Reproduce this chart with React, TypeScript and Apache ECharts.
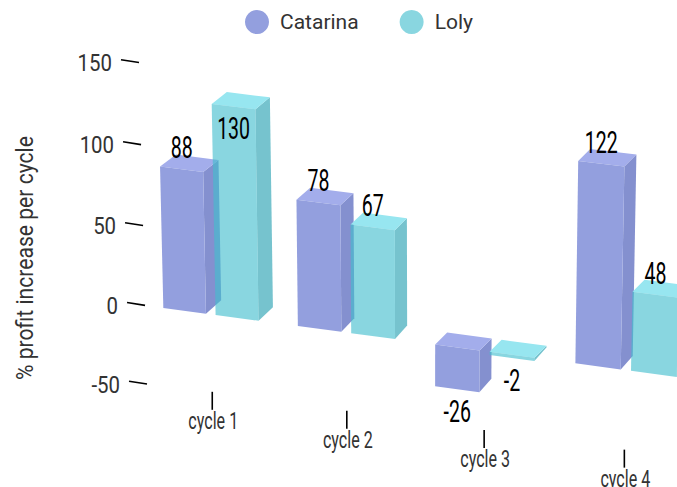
import React, { useEffect, useRef } from "react";
import * as echarts from "echarts";

const categories = ["cycle 1", "cycle 2", "cycle 3", "cycle 4"];
const catarina = [88, 78, -26, 122];
const loly = [130, 67, -2, 48];
const valueTicks = [150, 100, 50, 0, -50];

const FONT = "Roboto, sans-serif";
const GRID = { left: 144, top: 60, width: 552, height: 320 };

// Perspective of the front plane: plot rectangle corners -> page corners.
function solve(A: number[][], b: number[]) {
  const n = b.length;
  const M = A.map((r, i) => [...r, b[i]]);
  for (let c = 0; c < n; c++) {
    let p = c;
    for (let r = c + 1; r < n; r++) if (Math.abs(M[r][c]) > Math.abs(M[p][c])) p = r;
    [M[c], M[p]] = [M[p], M[c]];
    for (let r = 0; r < n; r++) {
      if (r === c) continue;
      const f = M[r][c] / M[c][c];
      for (let k = c; k <= n; k++) M[r][k] -= f * M[c][k];
    }
  }
  return M.map((r, i) => r[n] / r[i]);
}
function makeHomography(src: number[][], dst: number[][]) {
  const A: number[][] = [];
  const b: number[] = [];
  src.forEach(([x, y], i) => {
    const [X, Y] = dst[i];
    A.push([x, y, 1, 0, 0, 0, -x * X, -y * X]);
    b.push(X);
    A.push([0, 0, 0, x, y, 1, -x * Y, -y * Y]);
    b.push(Y);
  });
  const h = solve(A, b);
  return (p: number[]) => {
    const w = h[6] * p[0] + h[7] * p[1] + 1;
    return [(h[0] * p[0] + h[1] * p[1] + h[2]) / w, (h[3] * p[0] + h[4] * p[1] + h[5]) / w];
  };
}
const project = makeHomography(
  [
    [GRID.left, GRID.top],
    [GRID.left + GRID.width, GRID.top],
    [GRID.left + GRID.width, GRID.top + GRID.height],
    [GRID.left, GRID.top + GRID.height],
  ],
  [
    [138, 62.5],
    [725, 130.5],
    [716, 464],
    [146, 384],
  ]
);
const back = (p: number[], bottom: boolean) => {
  const dx = Math.max(12, 16 - Math.max(0, p[0] - 160) / 60);
  return [p[0] + dx, p[1] - (bottom ? 13.5 : 12)];
};
const poly = (points: number[][], fill: string) => ({
  type: "polygon",
  shape: { points },
  style: { fill, stroke: "none" },
});
const text = (t: string, x: number, y: number, size: number, scaleX: number, fill: string, align = "center") => ({
  type: "text",
  x,
  y,
  scaleX,
  style: { text: t, font: `400 ${size}px ${FONT}`, fill, align, verticalAlign: "middle" },
});

function barRenderer(from: number, to: number, faces: { front: string; top: string; side: string }) {
  return (_params: any, api: any) => {
    const i = api.value(0);
    const v = api.value(1);
    const base = api.coord([i, 0]);
    const end = api.coord([i, v]);
    const band = api.size([1, 0])[0];
    const x0 = base[0] + from * band;
    const x1 = base[0] + to * band;
    const yHigh = Math.min(base[1], end[1]);
    const yLow = Math.max(base[1], end[1]);
    const tl = project([x0, yHigh]);
    const tr = project([x1, yHigh]);
    const bl = project([x0, yLow]);
    const br = project([x1, yLow]);
    const tbr = back(tr, false);
    const tbl = back(tl, false);
    const bbr = back(br, true);
    const cx = (tl[0] + tr[0]) / 2;
    const inside = v > 125;
    const lx = v < 0 ? (bl[0] + br[0]) / 2 : cx;
    const ly = v < 0 ? (bl[1] + br[1]) / 2 + 22 : (tl[1] + tr[1]) / 2 + (inside ? 22 : -22);
    return {
      type: "group",
      children: [
        poly([tr, tbr, bbr, br], faces.side),
        poly([tl, tbl, tbr, tr], faces.top),
        poly([tl, tr, br, bl], faces.front),
        text(String(v), lx, ly, 31, 0.63, "#000"),
      ],
    };
  };
}

export default function App() {
  const ref = useRef<HTMLDivElement>(null);
  useEffect(() => {
    const chart = echarts.init(ref.current!, undefined, { renderer: "svg" });
    chart.setOption({
      animation: false,
      backgroundColor: "#fff",
      grid: GRID,
      xAxis: { type: "category", data: categories, show: false },
      yAxis: { type: "value", min: -50, max: 150, interval: 50, show: false },
      legend: {
        data: ["Catarina", "Loly"],
        left: 240,
        top: 5,
        icon: "circle",
        itemWidth: 24,
        itemHeight: 26,
        itemGap: 41,
        textStyle: { fontFamily: FONT, fontSize: 21, color: "#333", padding: [0, 0, 0, 6] },
      },
      graphic: [
        {
          type: "text",
          x: 25,
          y: 258,
          rotation: Math.PI / 2,
          scaleX: 0.88,
          style: {
            text: "% profit increase per cycle",
            font: `400 24px ${FONT}`,
            fill: "#333",
            align: "center",
            verticalAlign: "middle",
          },
        },
      ],
      series: [
        {
          type: "custom",
          name: "Catarina",
          clip: false,
          itemStyle: { color: "#939FDE" },
          data: catarina.map((v, i) => [i, v]),
          encode: { x: 0, y: 1 },
          renderItem: barRenderer(-0.355, -0.036, { front: "#939FDE", top: "#A3ADEB", side: "#8490CF" }),
        },
        {
          type: "custom",
          name: "Loly",
          clip: false,
          itemStyle: { color: "#89D6E0" },
          data: loly.map((v, i) => [i, v]),
          encode: { x: 0, y: 1 },
          renderItem: barRenderer(0.036, 0.355, {
            front: "rgba(67,189,205,0.626)",
            top: "#97E6F0",
            side: "#76C3CE",
          }),
        },
        {
          type: "custom",
          name: "valueAxis",
          clip: false,
          silent: true,
          data: valueTicks.map((v) => [0, v]),
          encode: { x: 0, y: 1 },
          renderItem: (_p: any, api: any) => {
            const v = api.value(1);
            const c = api.coord([0, v]);
            const e = project([GRID.left, c[1]]);
            const end = [e[0] + 1, e[1]];
            const start = [end[0] - 18, end[1] - 2.8];
            return {
              type: "group",
              children: [
                {
                  type: "line",
                  shape: { x1: start[0], y1: start[1], x2: end[0], y2: end[1] },
                  style: { stroke: "#000", lineWidth: 1.6 },
                },
                text(String(v), start[0] - 9, start[1] + 3, 24, 0.85, "#333", "right"),
              ],
            };
          },
        },
        {
          type: "custom",
          name: "categoryAxis",
          clip: false,
          silent: true,
          data: categories.map((_, i) => [i, -50]),
          encode: { x: 0, y: 1 },
          renderItem: (_p: any, api: any) => {
            const i = api.value(0);
            const p = project(api.coord([i, -50]));
            const top = p[1] - 1.5;
            return {
              type: "group",
              children: [
                {
                  type: "line",
                  shape: { x1: p[0], y1: top, x2: p[0], y2: top + 18 },
                  style: { stroke: "#000", lineWidth: 1.6 },
                },
                text(categories[i], p[0] + 1, top + 30, 23, 0.7, "#333"),
              ],
            };
          },
        },
      ],
    });
    return () => chart.dispose();
  }, []);
  return <div ref={ref} style={{ position: "absolute", left: 0, top: 0, width: 677, height: 487 }} />;
}
